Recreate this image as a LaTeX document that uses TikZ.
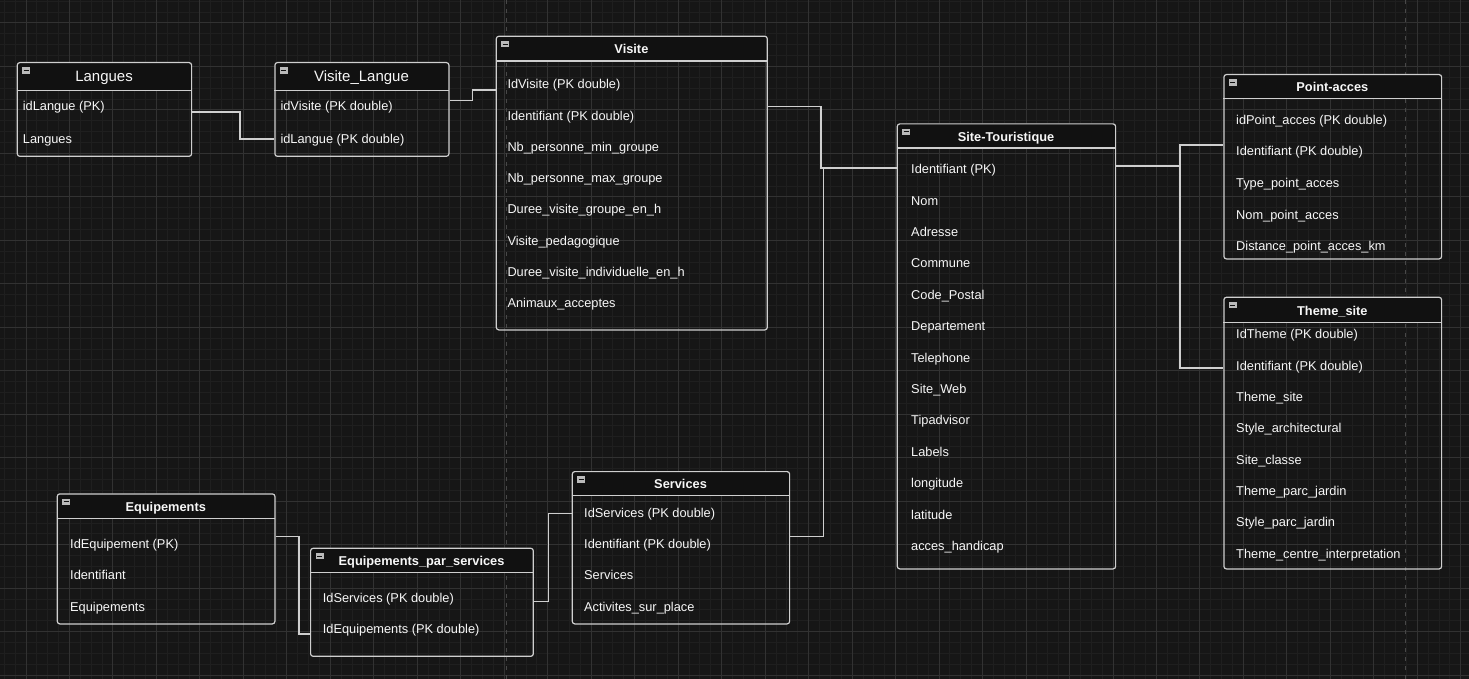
\documentclass[tikz,border=0pt]{standalone}
\usepackage{fontspec}
\setmainfont{Liberation Sans}
\usetikzlibrary{calc}

\definecolor{canvas}{HTML}{161616}
\definecolor{gridminor}{HTML}{1F1F1F}
\definecolor{gridmajor}{HTML}{323232}
\definecolor{pageline}{HTML}{484848}
\definecolor{headfill}{HTML}{111111}
\definecolor{linecol}{HTML}{CFCFCF}
\definecolor{textcol}{HTML}{F7F7F7}

% table: header, frame, separator, collapse icon
\newcommand{\erbox}[8][titlebf]{%
  \node[erhead,#1,minimum width=#5,minimum height=#7,anchor=north west] (#2-h) at (#3,#4) {#8};
  \node[erframe,minimum width=#5,minimum height=#6,anchor=north west] (#2) at (#3,#4) {};
  \draw[erline] (#2-h.south west) -- (#2-h.south east);
  \node[ericon] (#2-i) at ([xshift=9.5,yshift=-8.5]#2.north west) {};
}
% attribute rows
\newcommand{\erows}[5]{%
  \foreach \t [count=\i] in {#5}
    \node[erow] (#1-\i) at (#2,{#3+#4*(\i-1)}) {\t};
}

\begin{document}
\begin{tikzpicture}[x=1pt,y=-1pt,
    erframe/.style={draw=linecol,line width=1.2pt,rounded corners=2.5pt,inner sep=0},
    erhead/.style={fill=headfill,rounded corners=2.5pt,inner sep=0,text=textcol},
    titlebf/.style={font=\bfseries\fontsize{12.8}{15}\selectfont,text height=12pt,text depth=1pt},
    titlerg/.style={font=\fontsize{15}{18}\selectfont,text height=13pt,text depth=1.6pt},
    erow/.style={anchor=west,inner sep=0,text=textcol,font=\fontsize{12.8}{15}\selectfont,text height=12pt,text depth=1pt},
    erline/.style={draw=linecol,line width=1.2pt},
    ericon/.style={fill=linecol!90!black,minimum width=8pt,minimum height=6.5pt,inner sep=0,
      path picture={\draw[headfill,line width=1pt] ([xshift=1.5pt]path picture bounding box.west) -- ([xshift=-1.5pt]path picture bounding box.east);}},
    link/.style={draw=linecol,line width=1.2pt}]
  % canvas and grid
  \fill[canvas] (0,0) rectangle (1469,679);
  \useasboundingbox (0,0) rectangle (1469,679);
  \foreach \i in {0,...,135} \draw[gridminor,line width=1pt] ({4.26+10.87*\i},0) -- ++(0,679);
  \foreach \i in {0,...,62} \draw[gridminor,line width=1pt] (0,{1.26+10.87*\i}) -- ++(1469,0);
  \foreach \i in {0,...,33} \draw[gridmajor,line width=1pt] ({26+43.48*\i},0) -- ++(0,679);
  \foreach \i in {0,...,15} \draw[gridmajor,line width=1pt] (0,{23+43.48*\i}) -- ++(1469,0);
  \draw[pageline,line width=1pt,dash pattern=on 4pt off 5pt] (506,0) -- (506,679);
  \draw[pageline,line width=1pt,dash pattern=on 4pt off 5pt] (1405.7,0) -- (1405.7,679);

  % tables
  \erbox[titlerg]{langues}{16.7}{62}{174.3}{93.7}{28}{Langues}
  \erows{langues}{22.7}{105.3}{33}{idLangue (PK), Langues}

  \erbox[titlerg]{vislang}{274.3}{62}{174}{93.7}{28}{Visite\_Langue}
  \erows{vislang}{280.3}{105.3}{33}{idVisite (PK double), idLangue (PK double)}

  \erbox{visite}{495.7}{35.7}{271}{293.6}{25}{Visite}
  \erows{visite}{507.3}{83.3}{31.29}{IdVisite (PK double), Identifiant (PK double), Nb\_personne\_min\_groupe, Nb\_personne\_max\_groupe, Duree\_visite\_groupe\_en\_h, Visite\_pedagogique, Duree\_visite\_individuelle\_en\_h, Animaux\_acceptes}

  \erbox{site}{896.7}{123.3}{218.3}{445}{24.4}{Site-Touristique}
  \erows{site}{911}{168.3}{31.39}{Identifiant (PK), Nom, Adresse, Commune, Code\_Postal, Departement, Telephone, Site\_Web, Tipadvisor, Labels, longitude, latitude, acces\_handicap}

  \erbox{pacces}{1223.3}{74}{217.7}{184.3}{24.3}{Point-acces}
  \erows{pacces}{1236}{119}{31.5}{idPoint\_acces (PK double), Identifiant (PK double), Type\_point\_acces, Nom\_point\_acces, Distance\_point\_acces\_km}

  \erbox{theme}{1223.3}{296.7}{217.7}{271.6}{25.6}{Theme\_site}
  \erows{theme}{1236}{333.3}{31.34}{IdTheme (PK double), Identifiant (PK double), Theme\_site, Style\_architectural, Site\_classe, Theme\_parc\_jardin, Style\_parc\_jardin, Theme\_centre\_interpretation}

  \erbox{equip}{56.7}{493.3}{217.6}{130}{24.4}{Equipements}
  \erows{equip}{70}{542.7}{31.5}{IdEquipement (PK), Identifiant, Equipements}

  \erbox{eps}{310}{547.7}{222.7}{108}{24}{Equipements\_par\_services}
  \erows{eps}{322.7}{597.3}{30.4}{IdServices (PK double), IdEquipements (PK double)}

  \erbox{services}{571.7}{471}{217.3}{152.3}{24}{Services}
  \erows{services}{584}{511.7}{31.33}{IdServices (PK double), Identifiant (PK double), Services, Activites\_sur\_place}

  % elbows and attach levels
  \coordinate (e1) at (240,112);
  \coordinate (e2) at (472.7,100.7);
  \coordinate (e3) at (821,106.5);
  \coordinate (e4) at (823.5,536.5);
  \coordinate (e5) at (1180,166);
  \coordinate (e6) at (299,536.7);
  \coordinate (e7) at (548.3,601.7);
  \coordinate (t2) at (0,90);
  \coordinate (t3) at (0,168);
  \coordinate (t4) at (0,139);
  \coordinate (t5) at (0,145);
  \coordinate (t6) at (0,368);
  \coordinate (t7) at (0,634);
  \coordinate (t8) at (0,513.3);

  % relations
  \draw[link] (langues.east |- e1) -- (e1) |- (vislang.west |- t4);
  \draw[link] (vislang.east |- e2) -- (e2) |- (visite.west |- t2);
  \draw[link] (visite.east |- e3) -- (e3) |- (site.west |- t3);
  \draw[link] (services.east |- e4) -- (e4) |- (site.west |- t3);
  \draw[link] (site.east |- e5) -- (e5) |- (pacces.west |- t5);
  \draw[link] (site.east |- e5) -- (e5) |- (theme.west |- t6);
  \draw[link] (equip.east |- e6) -- (e6) |- (eps.west |- t7);
  \draw[link] (eps.east |- e7) -- (e7) |- (services.west |- t8);
\end{tikzpicture}
\end{document}
